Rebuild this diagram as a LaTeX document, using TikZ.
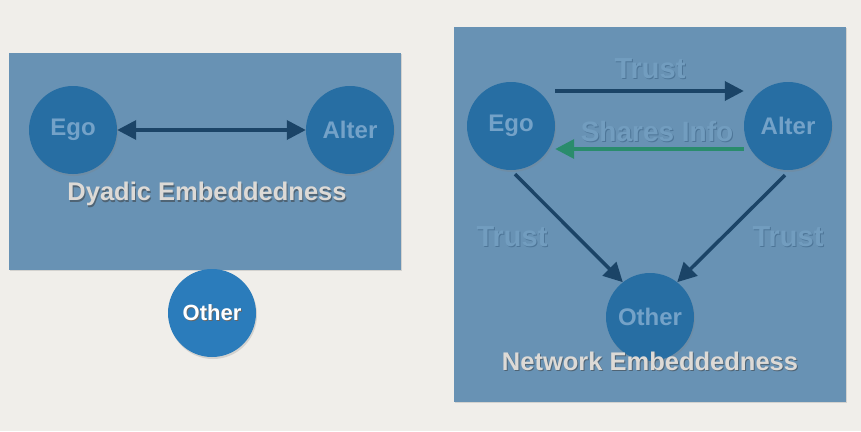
\documentclass[tikz,border=0pt]{standalone}
\usepackage{fontspec}
\setmainfont{Liberation Sans}
\usetikzlibrary{arrows.meta, shadows}
\definecolor{paper}{HTML}{F0EEEA}
\definecolor{boxblue}{HTML}{6892B4}
\definecolor{nodeblue}{HTML}{276EA3}
\definecolor{otherblue}{HTML}{2B7CBB}
\definecolor{nodetext}{HTML}{74A2C8}
\definecolor{labeltext}{HTML}{729DBF}
\definecolor{labelshade}{HTML}{4E7698}
\definecolor{titletext}{HTML}{DDDAD6}
\definecolor{titleshade}{HTML}{4F6475}
\definecolor{navy}{HTML}{1B4467}
\definecolor{infogreen}{HTML}{2A8C6C}
\newcommand{\embossed}[2]{\rlap{\hspace{1pt}\raisebox{-1.5pt}{\color{#1}#2}}#2}
\tikzset{>={Triangle[length=19pt,width=19pt]}}
\tikzset{
  panel/.style={fill=boxblue, draw=none, drop shadow={opacity=0.25, shadow xshift=1pt, shadow yshift=-1pt}},
  person/.style={circle, fill=nodeblue, minimum size=88pt, inner sep=0pt, text=nodetext,
    font=\bfseries\fontsize{24}{28}\selectfont, drop shadow={opacity=0.25, shadow xshift=1pt, shadow yshift=-2pt}},
  title/.style={text=titletext, font=\bfseries\fontsize{25.5}{30}\selectfont},
  tie/.style={text=labeltext, font=\bfseries\fontsize{29}{34}\selectfont},
  link/.style={->, line width=3.5pt, navy},
}

\begin{document}
\begin{tikzpicture}[x=1pt, y=-1pt]
    \fill [paper] (0,0) rectangle (861,431);
    \useasboundingbox (0,0) rectangle (861,431);
    % dyadic
    \fill [panel] (9,53) rectangle (401,270);
    \node [person] (ego1) at (73,130) {Ego};
    \node [person] (alter1) at (350,130) {Alter};
    \draw [<->, line width=3.5pt, navy] (ego1) -- (alter1);
    \node [title] (dyadic) at (207,195) {\embossed{titleshade}{Dyadic Embeddedness}};
    \node [person, fill=otherblue, text=white, font=\bfseries\fontsize{22}{26}\selectfont] (other1) at (212,313) {\embossed{black!60}{Other}};
    % network
    \fill [panel] (454,27) rectangle (846,402);
    \node [person] (ego2) at (511,126) {Ego};
    \node [person] (alter2) at (788,126) {Alter};
    \node [person] (other2) at (650,317) {Other};
    \draw [link] ([yshift=35pt]ego2.east) -- ([yshift=35pt]alter2.west);
    \draw [link, infogreen] ([yshift=-23pt]alter2.west) -- ([yshift=-23pt]ego2.east);
    \draw [link] ([shift={(4pt,-4pt)}]ego2.south) -- (other2.128);
    \draw [link] ([shift={(-3pt,-5pt)}]alter2.south) -- (other2.52);
    \node [tie] (trust1) at (650,69) {\embossed{labelshade}{Trust}};
    \node [tie, font=\bfseries\fontsize{28}{33}\selectfont] (shares) at (657,132) {\embossed{labelshade}{Shares Info}};
    \node [tie] (trust2) at (512,237) {\embossed{labelshade}{Trust}};
    \node [tie] (trust3) at (788,237) {\embossed{labelshade}{Trust}};
    \node [title] (network) at (650,362) {\embossed{titleshade}{Network Embeddedness}};
\end{tikzpicture}
\end{document}
